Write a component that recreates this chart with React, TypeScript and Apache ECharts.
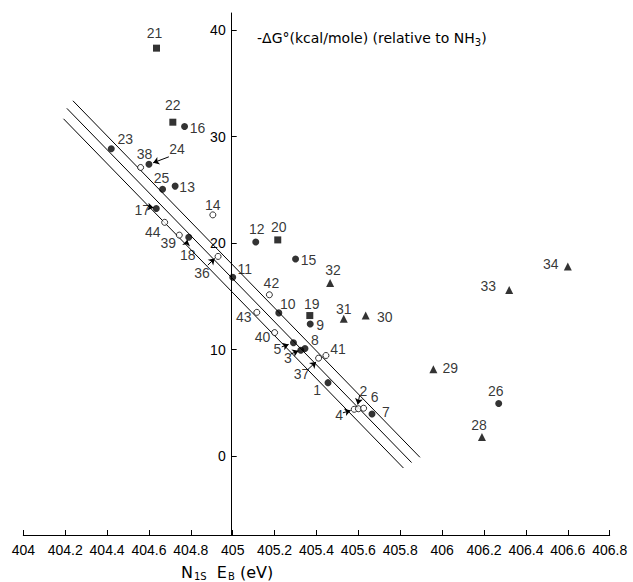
import React, { useEffect, useRef } from "react";
import * as echarts from "echarts";

// [id, N1s binding energy (eV), -ΔG° (kcal/mole)]
const filledCircles: [string, number, number][] = [
  ["23", 404.42, 28.85], ["16", 404.77, 30.95], ["24", 404.6, 27.4], ["25", 404.665, 25.05],
  ["13", 404.725, 25.35], ["17", 404.635, 23.25], ["18", 404.79, 20.55], ["11", 405.0, 16.8],
  ["12", 405.11, 20.1], ["15", 405.3, 18.5], ["10", 405.22, 13.45], ["9", 405.37, 12.4],
  ["5", 405.29, 10.65], ["3", 405.325, 9.95], ["8", 405.345, 10.1], ["1", 405.455, 6.9],
  ["7", 405.665, 3.95], ["26", 406.27, 4.95],
];
const openCircles: [string, number, number][] = [
  ["38", 404.56, 27.1], ["14", 404.905, 22.65], ["44", 404.675, 21.95], ["39", 404.745, 20.75],
  ["36", 404.93, 18.75], ["42", 405.175, 15.15], ["43", 405.115, 13.5], ["40", 405.2, 11.6],
  ["37", 405.41, 9.2], ["41", 405.445, 9.45], ["4", 405.58, 4.4], ["2", 405.6, 4.45], ["6", 405.625, 4.5],
];
const squares: [string, number, number][] = [
  ["21", 404.636, 38.3], ["22", 404.714, 31.35], ["20", 405.215, 20.3], ["19", 405.368, 13.2],
];
const triangles: [string, number, number][] = [
  ["32", 405.465, 16.25], ["31", 405.53, 12.9], ["30", 405.635, 13.2], ["29", 405.958, 8.15],
  ["33", 406.32, 15.6], ["34", 406.6, 17.8], ["28", 406.19, 1.8],
];
// correlation line and its two bands
const lineTop: [number, number][] = [[404.237, 33.36], [405.894, -0.11]];
const lineMid: [number, number][] = [[404.208, 32.65], [405.854, -0.6]];
const lineBot: [number, number][] = [[404.192, 31.67], [405.815, -1.11]];
// label arrows: [fromX, fromY, toX, toY]
const arrows: [number, number, number, number][] = [
  [404.695, 28.1, 404.62, 27.54],
  [404.596, 23.41, 404.622, 23.31],
  [404.779, 19.9, 404.783, 20.3],
  [404.881, 17.93, 404.914, 18.56],
  [405.234, 10.26, 405.267, 10.49],
  [405.276, 9.58, 405.314, 9.89],
  [405.359, 8.14, 405.398, 8.85],
  [405.606, 5.73, 405.597, 4.85],
  [405.526, 4.07, 405.563, 4.28],
];
const yTickValues = [0, 10, 20, 30, 40];

// layout: label centre offset (px) from each point
const labelOffsets: Record<string, [number, number]> = {
  "22": [0, -17], "16": [13, 2], "23": [14, -10], "38": [4, -13], "24": [28, -15], "25": [-1, -11],
  "13": [12, 1], "14": [0, -10], "17": [-14, 2], "44": [-12, 10], "39": [-11, 8], "18": [-1, 18],
  "36": [-16, 17], "11": [12, -8], "12": [1, -13], "20": [1, -13], "15": [13, 1], "32": [3, -13],
  "42": [2, -12], "43": [-13, 5], "10": [9, -9], "19": [2, -12], "9": [10, 1], "31": [0, -10],
  "30": [19, 1], "40": [-12, 4], "5": [-16, 6], "8": [10, -9], "3": [-13, 8], "41": [12, -6],
  "37": [-17, 16], "1": [-11, 7], "2": [5, -18], "6": [11, -11], "4": [-15, 6], "7": [14, -2],
  "21": [-2, -15], "34": [-17, -3], "33": [-21, -4], "26": [-3, -12], "28": [-3, -12], "29": [17, -1],
};

const NUM_FONT = "Liberation Sans";

const pointLabel = {
  show: true,
  position: "inside",
  formatter: "{b}",
  color: "#000",
  fontSize: 14,
  fontFamily: NUM_FONT,
  fontWeight: "normal",
  textBorderWidth: 0,
  textBorderColor: "transparent",
  textShadowBlur: 0,
};

function pointData(arr: [string, number, number][]) {
  return arr.map(([id, x, y]) => ({
    name: id,
    value: [x, y],
    label: { ...pointLabel, offset: labelOffsets[id] || [0, -12] },
  }));
}

export default function App() {
  const ref = useRef<HTMLDivElement>(null);
  useEffect(() => {
    document.body.style.margin = "0";
    if (!ref.current) return;
    const chart = echarts.init(ref.current, null, { renderer: "svg" });
    const lineSeries = (d: [number, number][]) => ({
      type: "line",
      data: d,
      symbol: "none",
      lineStyle: { color: "#000", width: 1 },
      silent: true,
      z: 1,
    });
    chart.setOption({
      animation: false,
      backgroundColor: "#fff",
      title: [
        {
          text: "{a|-ΔG°(kcal/mole) (relative to NH}{s|3}{a|)}",
          left: 252,
          top: 24,
          textStyle: {
            fontWeight: "normal",
            rich: {
              a: { fontFamily: "DejaVu Sans", fontSize: 14, fontWeight: "normal", color: "#000", lineHeight: 18 },
              s: { fontFamily: "DejaVu Sans", fontSize: 10, fontWeight: "normal", color: "#000", lineHeight: 18, padding: [8, 0, 0, 0] },
            },
          },
        },
        {
          text: "{a|N}{s|1S}{a|  E}{s|B}{a| (eV)}",
          left: 176,
          top: 557,
          textStyle: {
            fontWeight: "normal",
            rich: {
              a: { fontFamily: "DejaVu Sans", fontSize: 16, fontWeight: "normal", color: "#000", lineHeight: 20 },
              s: { fontFamily: "DejaVu Sans", fontSize: 10, fontWeight: "normal", color: "#000", lineHeight: 20, padding: [9, 0, 0, 1] },
            },
          },
        },
      ],
      grid: { left: 23.3, right: 23.3, top: 13, bottom: 47, outerBoundsMode: "none", containLabel: false },
      xAxis: {
        type: "value",
        min: 404,
        max: 406.8,
        interval: 0.2,
        axisLine: { show: true, onZero: false, lineStyle: { color: "#000", width: 1 } },
        axisTick: { show: true, inside: true, length: 5, lineStyle: { color: "#000" } },
        axisLabel: {
          color: "#000",
          fontSize: 14,
          fontFamily: NUM_FONT,
          margin: 8,
          formatter: (v: number) => String(Math.round(v * 10) / 10),
        },
        splitLine: { show: false },
      },
      yAxis: {
        type: "value",
        min: -7.4,
        max: 41.6,
        position: "left",
        offset: -208.4,
        axisLine: { show: true, onZero: false, lineStyle: { color: "#000", width: 1 } },
        axisTick: { show: true, inside: true, length: 5, customValues: yTickValues, lineStyle: { color: "#000" } },
        axisLabel: { customValues: yTickValues, color: "#000", fontSize: 14, fontFamily: NUM_FONT, margin: 6 },
        splitLine: { show: false },
      },
      series: [
        lineSeries(lineTop),
        lineSeries(lineMid),
        lineSeries(lineBot),
        {
          type: "lines",
          coordinateSystem: "cartesian2d",
          data: arrows.map(([a, b, c, d]) => ({ coords: [[a, b], [c, d]] })),
          symbol: ["none", "arrow"],
          symbolSize: 6,
          lineStyle: { color: "#000", width: 1, opacity: 1 },
          silent: true,
          z: 2,
        },
        {
          type: "scatter",
          data: pointData(openCircles),
          symbol: "circle",
          symbolSize: 6,
          itemStyle: { color: "#fff", borderColor: "#000", borderWidth: 1 },
          label: pointLabel,
          z: 3,
        },
        {
          type: "scatter",
          data: pointData(filledCircles),
          symbol: "circle",
          symbolSize: 7,
          itemStyle: { color: "#000" },
          label: pointLabel,
          z: 4,
        },
        {
          type: "scatter",
          data: pointData(squares),
          symbol: "rect",
          symbolSize: 7,
          itemStyle: { color: "#000" },
          label: pointLabel,
          z: 4,
        },
        {
          type: "scatter",
          data: pointData(triangles),
          symbol: "triangle",
          symbolSize: 8,
          itemStyle: { color: "#000" },
          label: pointLabel,
          z: 4,
        },
      ],
    });
    return () => chart.dispose();
  }, []);
  return <div ref={ref} style={{ width: 633, height: 582 }} />;
}
